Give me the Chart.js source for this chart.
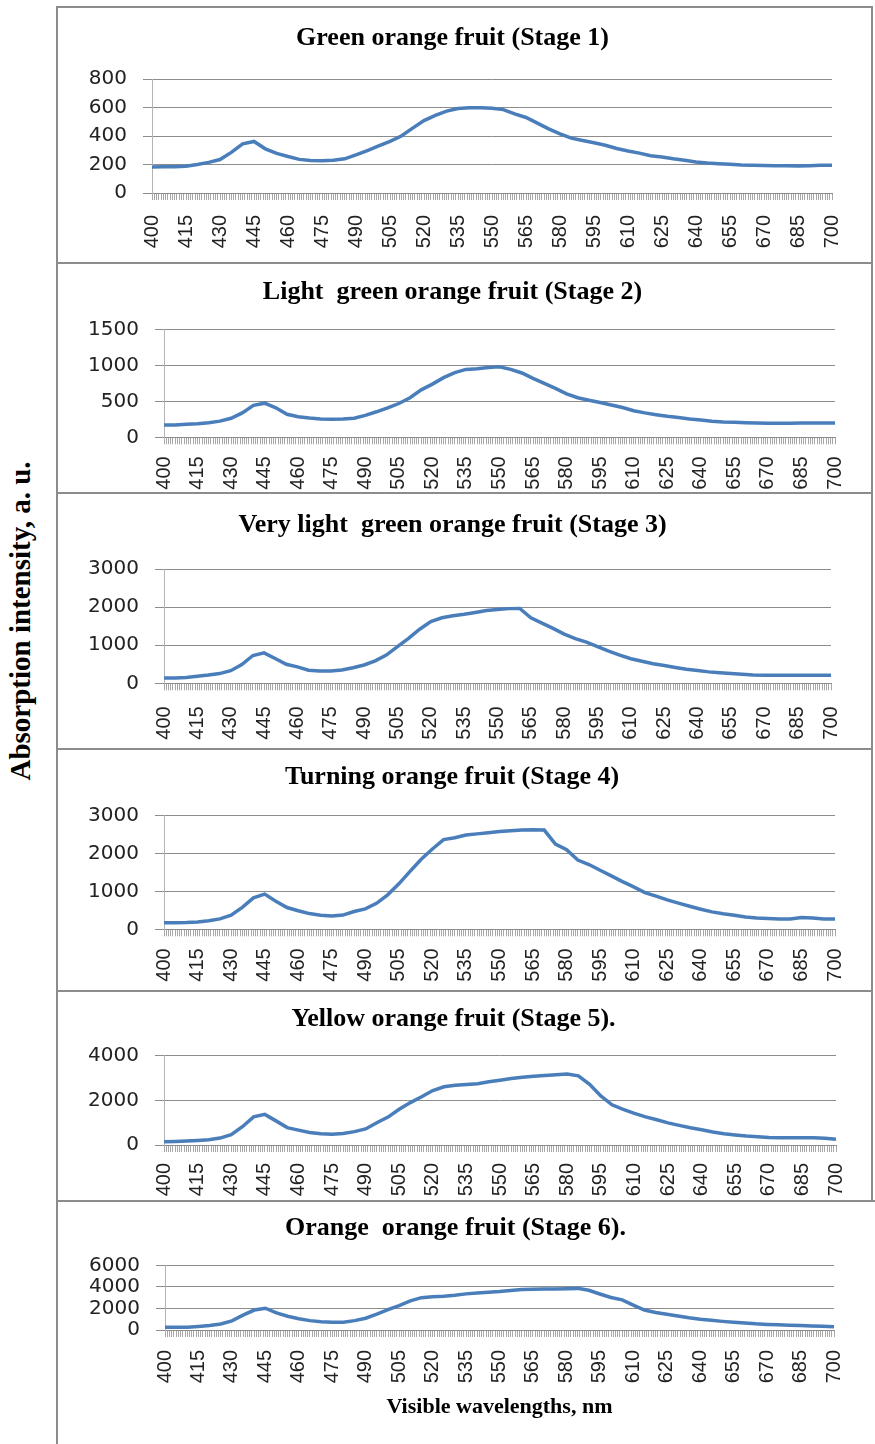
<!DOCTYPE html>
<html>
<head>
<meta charset="utf-8">
<script src="https://cdn.jsdelivr.net/npm/chart.js@4.4.0/dist/chart.umd.min.js"></script>
<style>
  body { margin: 0; background: #fff; width: 875px; height: 1444px; position: relative; overflow: hidden; }
  .line { position: absolute; background: #8c8c8c; }
  canvas { position: absolute; }
  #ytitle {
    position: absolute; left: 20px; top: 621px; width: 400px; margin-left: -200px; margin-top: -17px;
    text-align: center; transform: rotate(-90deg);
    font: bold 29px "Liberation Serif", "Times New Roman", serif; color: #000; line-height: 34px;
  }
</style>
</head>
<body>
<div id="ytitle">Absorption intensity, a. u.</div>
<script>
// wavelengths (nm), read every 5 nm
const wavelengths = [400,405,410,415,420,425,430,435,440,445,450,455,460,465,470,475,480,485,490,495,
  500,505,510,515,520,525,530,535,540,545,550,555,560,565,570,575,580,585,590,595,
  600,605,610,615,620,625,630,635,640,645,650,655,660,665,670,675,680,685,690,695,700];

const stage1 = [183,184,185,188,200,215,235,285,345,362,310,278,256,236,228,226,230,240,268,298,
  330,362,400,455,508,545,575,593,598,598,595,585,555,530,490,450,415,385,368,352,
  335,312,295,280,262,252,240,230,218,210,206,202,197,195,193,192,191,190,192,194,195];

const stage2 = [170,172,182,190,203,225,265,340,445,475,410,320,285,268,255,250,256,266,305,355,
  410,470,550,660,740,830,900,945,955,970,980,945,895,820,750,680,605,550,515,485,
  450,415,370,340,315,293,275,255,240,222,213,208,203,200,197,195,196,198,200,200,200];

const stage3 = [140,142,150,185,215,255,330,490,730,800,650,500,430,345,325,322,350,410,480,590,
  740,960,1180,1420,1620,1720,1775,1810,1860,1910,1940,1960,1965,1720,1580,1440,1290,1170,1080,960,
  845,740,645,580,515,465,415,368,335,300,275,255,235,218,212,210,210,210,210,210,210];

const stage4 = [174,176,182,195,225,275,370,580,830,930,740,575,490,415,370,352,375,470,540,686,
  910,1200,1530,1850,2120,2370,2420,2490,2520,2550,2580,2600,2620,2630,2620,2250,2100,1830,1710,1560,
  1410,1260,1120,970,875,775,690,610,530,460,410,370,325,300,285,272,275,310,300,275,272];

const stage5 = [150,160,175,200,235,310,460,820,1260,1370,1080,780,665,560,500,480,515,600,720,1000,
  1250,1600,1900,2160,2440,2610,2680,2715,2740,2830,2900,2980,3035,3075,3110,3150,3180,3100,2720,2200,
  1800,1600,1420,1260,1130,990,880,770,680,580,500,450,400,370,340,325,325,325,325,300,260];

const stage6 = [250,250,250,330,420,560,850,1380,1850,2020,1580,1280,1050,870,760,710,710,870,1090,1470,
  1880,2270,2700,3000,3090,3130,3220,3350,3430,3500,3560,3660,3760,3790,3800,3800,3830,3860,3680,3340,
  3020,2800,2300,1850,1620,1460,1290,1130,1000,900,800,720,650,570,520,480,450,410,380,340,310];

const series = [stage1, stage2, stage3, stage4, stage5, stage6];
const titles = [
  'Green orange fruit (Stage 1)',
  'Light  green orange fruit (Stage 2)',
  'Very light  green orange fruit (Stage 3)',
  'Turning orange fruit (Stage 4)',
  'Yellow orange fruit (Stage 5).',
  'Orange  orange fruit (Stage 6).'
];
const yMax = [800, 1500, 3000, 3000, 4000, 6000];
const yStep = [200, 500, 1000, 1000, 2000, 2000];
const xTitle = 'Visible wavelengths, nm';

// page geometry of each panel (pixels)
const panels = [
  {top: 7,    h: 255, axisX: 152, right: 847, gridTop: 79,    zero: 193,   titleY: 38,   labPad: 15},
  {top: 263,  h: 229, axisX: 164, right: 847, gridTop: 329.5, zero: 437.3, titleY: 292,  labPad: 12},
  {top: 494,  h: 254, axisX: 164, right: 847, gridTop: 569,   zero: 683.3, titleY: 525,  labPad: 16},
  {top: 749,  h: 241, axisX: 164, right: 846, gridTop: 815.7, zero: 929.3, titleY: 777,  labPad: 12},
  {top: 991,  h: 209, axisX: 164, right: 849, gridTop: 1055.7,zero: 1145,  titleY: 1019, labPad: 11},
  {top: 1202, h: 242, axisX: 165, right: 853, gridTop: 1265.3,zero: 1330,  titleY: 1228, labPad: 13}
];
const canvasLeft = 58, canvasWidth = 813;

function addLine(x, y, w, h) {
  const d = document.createElement('div');
  d.className = 'line';
  d.style.left = x + 'px'; d.style.top = y + 'px';
  d.style.width = w + 'px'; d.style.height = h + 'px';
  document.body.appendChild(d);
}
// frame
addLine(56, 6, 2, 1438);
addLine(871, 6, 2, 1196);
[6, 262, 492, 748, 990].forEach(y => addLine(56, y, 817, 2));
addLine(56, 1200, 819, 2);

const titleSize = 26, titleLH = titleSize * 1.2;

panels.forEach((p, i) => {
  const cv = document.createElement('canvas');
  cv.width = canvasWidth; cv.height = p.h;
  cv.style.left = canvasLeft + 'px'; cv.style.top = p.top + 'px';
  document.body.appendChild(cv);

  const last = i === panels.length - 1;
  const xHeight = p.top + p.h - p.zero;
  const yWidth = p.axisX - canvasLeft;
  const tPadTop = p.titleY - p.top - titleLH / 2;
  const tPadBottom = p.gridTop - p.titleY - titleLH / 2;

  new Chart(cv, {
    type: 'line',
    data: {
      datasets: [{
        data: wavelengths.map((w, k) => ({x: w, y: series[i][k]})),
        borderColor: '#4a7ebb',
        borderWidth: 3.5,
        pointRadius: 0,
        tension: 0,
        fill: false
      }]
    },
    options: {
      responsive: false,
      animation: false,
      layout: {padding: {left: 0, right: canvasLeft + canvasWidth - p.right, top: 0, bottom: 0}},
      plugins: {
        legend: {display: false},
        tooltip: {enabled: false},
        title: {
          display: true,
          text: titles[i],
          color: '#000',
          font: {family: '"Liberation Serif", "Times New Roman", serif', size: titleSize, weight: 'bold', lineHeight: 1.2},
          padding: {top: tPadTop, bottom: tPadBottom}
        }
      },
      scales: {
        x: {
          type: 'linear',
          min: 400,
          max: 700,
          ticks: {
            stepSize: 1,
            autoSkip: false,
            minRotation: 90,
            maxRotation: 90,
            padding: p.labPad,
            color: '#222',
            font: {family: '"Liberation Sans", Arial, sans-serif', size: 20},
            callback: v => ((v - 400) % 15 === 0 ? String(v) : '')
          },
          grid: {drawOnChartArea: false, drawTicks: true, tickLength: 7, color: '#a8a8a8'},
          border: {display: true, color: '#8c8c8c'},
          title: {
            display: last,
            text: xTitle,
            color: '#000',
            font: {family: '"Liberation Serif", "Times New Roman", serif', size: 22, weight: 'bold', lineHeight: 1.2},
            padding: {top: 0, bottom: 23}
          },
          afterFit: s => { s.height = xHeight; }
        },
        y: {
          min: 0,
          max: yMax[i],
          ticks: {
            stepSize: yStep[i],
            autoSkip: false,
            padding: 16,
            color: '#222',
            font: {family: '"DejaVu Sans", Verdana, sans-serif', size: 20},
            callback: v => String(v)
          },
          grid: {color: '#8c8c8c', tickLength: 9},
          border: {color: '#b4b4b4'},
          afterFit: s => { s.width = yWidth; }
        }
      }
    }
  });
});
</script>
</body>
</html>
